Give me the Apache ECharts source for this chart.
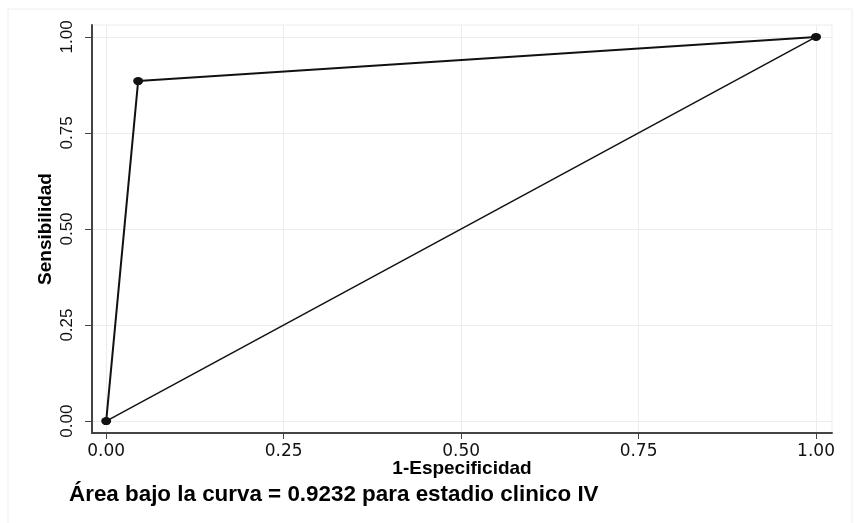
<!DOCTYPE html>
<html style="height: 100%;">
<head>
    <meta charset="UTF-8">
    <title></title>
    <script src="https://cdn.jsdelivr.net/npm/echarts@6/dist/echarts.min.js"></script>
    <style>
        body { margin: 0; background: #fff; }
        #container { width: 855px; height: 523px; }
    </style>
</head>
<body>
    <div id="container"></div>
    <script type="text/javascript">
        // curva ROC: 1-especificidad vs sensibilidad
        var especificidad1 = [0, 0.045, 1];
        var sensibilidad = [0, 0.885, 1];
        // linea de referencia
        var refX = [0, 1];
        var refY = [0, 1];
        var ticks = [0, 0.25, 0.5, 0.75, 1];

        var rocData = [];
        for (var i = 0; i < especificidad1.length; i++) {
            rocData.push([especificidad1[i], sensibilidad[i]]);
        }
        var refData = [];
        for (var j = 0; j < refX.length; j++) {
            refData.push([refX[j], refY[j]]);
        }

        var myChart = echarts.init(document.getElementById('container'));
        var fmt = function (v) {
            for (var k = 0; k < ticks.length; k++) {
                if (Math.abs(v - ticks[k]) < 1e-6) return ticks[k].toFixed(2);
            }
            return '';
        };

        var option = {
            backgroundColor: '#fff',
            animation: false,
            textStyle: { fontFamily: 'Liberation Sans' },
            graphic: [
                {
                    type: 'rect',
                    shape: { x: 8, y: 9, width: 844, height: 520 },
                    style: { fill: 'none', stroke: '#eeeeee', lineWidth: 1 }
                },
                {
                    type: 'text',
                    left: 69,
                    top: 484,
                    style: {
                        text: 'Área bajo la curva = 0.9232 para estadio clinico IV',
                        font: 'bold 22.4px "Liberation Sans"',
                        fill: '#000'
                    }
                }
            ],
            grid: {
                left: 92,
                right: 23,
                top: 25,
                bottom: 90,
                show: true,
                borderColor: '#ebebeb',
                borderWidth: 1
            },
            xAxis: {
                type: 'value',
                min: -0.02,
                max: 1.0225,
                name: '1-Especificidad',
                nameLocation: 'middle',
                nameGap: 26,
                nameMoveOverlap: false,
                nameTextStyle: { fontSize: 19, fontWeight: 'bold', color: '#000' },
                axisLine: { show: true, onZero: false, lineStyle: { color: '#444', width: 2 } },
                axisTick: { show: true, customValues: ticks, length: 6, lineStyle: { color: '#444' } },
                axisLabel: { customValues: ticks, formatter: fmt, fontSize: 17, fontFamily: 'DejaVu Sans', color: '#111', margin: 10 },
                splitLine: { show: true, lineStyle: { color: '#ececec' } }
            },
            yAxis: {
                type: 'value',
                min: -0.031,
                max: 1.031,
                name: 'Sensibilidad',
                nameLocation: 'middle',
                nameGap: 37,
                nameRotate: 90,
                nameMoveOverlap: false,
                nameTextStyle: { fontSize: 19, fontWeight: 'bold', color: '#000' },
                axisLine: { show: true, onZero: false, lineStyle: { color: '#444', width: 2 } },
                axisTick: { show: true, customValues: ticks, length: 7, lineStyle: { color: '#444' } },
                axisLabel: { customValues: ticks, formatter: fmt, fontSize: 17, color: '#111', rotate: 90, margin: 16 },
                splitLine: { show: true, lineStyle: { color: '#ececec' } }
            },
            series: [
                {
                    type: 'line',
                    data: refData,
                    symbol: 'none',
                    lineStyle: { color: '#111', width: 1.5 },
                    z: 2
                },
                {
                    type: 'line',
                    data: rocData,
                    symbol: 'circle',
                    symbolSize: [10, 8],
                    itemStyle: { color: '#111' },
                    lineStyle: { color: '#111', width: 2 },
                    z: 3
                }
            ]
        };
        myChart.setOption(option);
    </script>
</body>
</html>
